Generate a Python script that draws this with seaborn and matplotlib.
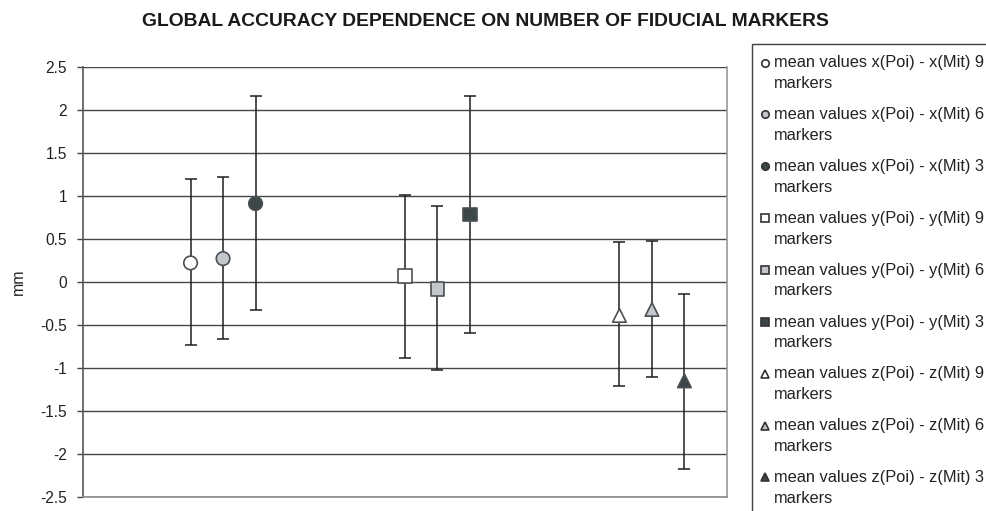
import matplotlib
matplotlib.use("Agg")
import matplotlib.pyplot as plt
from matplotlib.legend_handler import HandlerLine2D
from matplotlib.lines import Line2D
import seaborn as sns
import pandas as pd
import numpy as np

# ---- data ----
labels = [
    "mean values x(Poi) - x(Mit) 9\nmarkers",
    "mean values x(Poi) - x(Mit) 6\nmarkers",
    "mean values x(Poi) - x(Mit) 3\nmarkers",
    "mean values y(Poi) - y(Mit) 9\nmarkers",
    "mean values y(Poi) - y(Mit) 6\nmarkers",
    "mean values y(Poi) - y(Mit) 3\nmarkers",
    "mean values z(Poi) - z(Mit) 9\nmarkers",
    "mean values z(Poi) - z(Mit) 6\nmarkers",
    "mean values z(Poi) - z(Mit) 3\nmarkers",
]
group = [1, 1, 1, 2, 2, 2, 3, 3, 3]
slot = [-1, 0, 1, -1, 0, 1, -1, 0, 1]
means = [0.22, 0.27, 0.91, 0.07, -0.08, 0.78, -0.39, -0.32, -1.15]
upper = [1.19, 1.22, 2.16, 1.01, 0.88, 2.16, 0.46, 0.48, -0.14]
lower = [-0.73, -0.66, -0.33, -0.89, -1.03, -0.59, -1.21, -1.11, -2.17]
ytick_labels = ["-2.5", "-2", "-1.5", "-1", "-0.5", "0", "0.5", "1", "1.5", "2", "2.5"]

fills = ["#ffffff", "#c3c7cc", "#3d4649"] * 3
shapes = ["o", "o", "o", "s", "s", "s", "^", "^", "^"]

slot_step = 0.1515
df = pd.DataFrame({
    "label": labels,
    "x": np.array(group) + np.array(slot) * slot_step,
    "mean": means,
    "upper": upper,
    "lower": lower,
})

sns.set_theme(style="white")
plt.rcParams["font.family"] = ["Liberation Sans", "DejaVu Sans"]

fig = plt.figure(figsize=(9.86, 5.11), dpi=100)
ax = fig.add_axes([83 / 986, 1 - 497 / 511, (727 - 83) / 986, (497 - 66.7) / 511])

ax.set_ylim(-2.5, 2.5)
ax.set_xlim(0.347, 3.35)
ax.set_yticks(np.arange(-2.5, 2.51, 0.5))
ax.set_yticklabels(ytick_labels)
ax.yaxis.grid(True, color="#454545", linewidth=1.0)
ax.set_axisbelow(True)
ax.set_xticks([])

ax.errorbar(df["x"], df["mean"],
            yerr=[df["mean"] - df["lower"], df["upper"] - df["mean"]],
            fmt="none", ecolor="#1e1e1e", elinewidth=1.1, capsize=4.5,
            capthick=1.1, zorder=3)

sns.scatterplot(data=df, x="x", y="mean", hue="label", style="label",
                palette=dict(zip(labels, fills)),
                markers=dict(zip(labels, shapes)),
                hue_order=labels, style_order=labels,
                s=95, edgecolor="#4a5055", linewidth=1.2, ax=ax, zorder=4,
                legend=True)

ax.set_xlabel("")
ax.set_ylabel("mm", fontsize=11.5, color="#222222")
ax.yaxis.set_label_coords((26 - 83) / 644, 0.5)
ax.tick_params(axis="y", which="both", left=True, length=4.5, width=1,
               color="#444444", labelsize=11.2, pad=7, labelcolor="#222222")

ax.spines["top"].set_visible(False)
ax.spines["bottom"].set_color("#8a8a8a")
ax.spines["bottom"].set_linewidth(1.2)
ax.spines["left"].set_color("#555555")
ax.spines["left"].set_linewidth(1.2)
ax.spines["right"].set_color("#999999")
ax.spines["right"].set_linewidth(1.2)

fig.text(0.492, 0.958, "GLOBAL ACCURACY DEPENDENCE ON NUMBER OF FIDUCIAL MARKERS",
         ha="center", va="center", fontsize=13.9, fontweight="bold", color="#1a1a1a")


class FirstLineHandler(HandlerLine2D):
    """Place the legend marker level with the first text line."""
    def create_artists(self, legend, orig_handle, xdescent, ydescent,
                       width, height, fontsize, trans):
        arts = super().create_artists(legend, orig_handle, xdescent, ydescent,
                                      width, height, fontsize, trans)
        for a in arts:
            a.set_ydata(np.asarray(a.get_ydata(), dtype=float) + 0.66 * fontsize)
            a.set_xdata(np.asarray(a.get_xdata(), dtype=float) - 0.18 * fontsize)
        return arts


handles, labs = ax.get_legend_handles_labels()
for h in handles:
    try:
        h.set_markeredgecolor("#333333")
    except AttributeError:
        pass
leg = ax.legend(handles, labs, loc="upper left",
                bbox_to_anchor=(752 / 986, 1 - 44 / 511), bbox_transform=fig.transFigure,
                frameon=True, fancybox=False, edgecolor="#111111",
                fontsize=11.8, markerscale=0.55, handletextpad=0.1,
                handlelength=0.56, labelspacing=0.99, borderpad=0.69,
                borderaxespad=0, handler_map={Line2D: FirstLineHandler()})
leg.get_frame().set_linewidth(1.0)
for t in leg.get_texts():
    t.set_linespacing(1.47)
    t.set_color("#222222")

fig.savefig("out.png", dpi=100)
